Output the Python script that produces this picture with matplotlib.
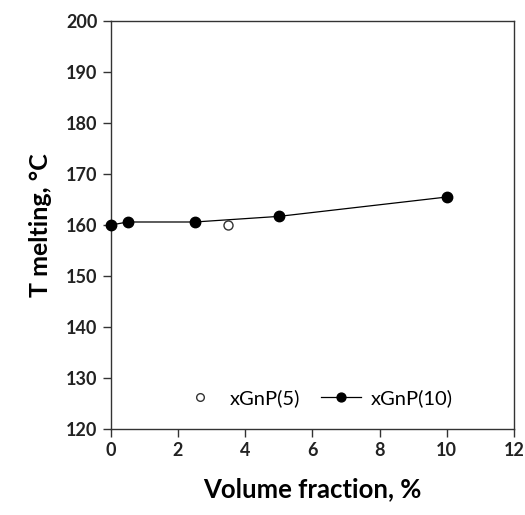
import numpy as np
from matplotlib import pyplot as plt

plt.rcParams['font.family'] = ['Lato', 'DejaVu Sans']

# xGnP(10) series
vol_10 = [0, 0.5, 2.5, 5, 10]
tm_10 = [160.0, 160.6, 160.6, 161.7, 165.5]

# xGnP(5) series
vol_5 = [3.5]
tm_5 = [160.0]

x_ticks = [0, 2, 4, 6, 8, 10, 12]
y_ticks = [120, 130, 140, 150, 160, 170, 180, 190, 200]

fig = plt.figure(figsize=(5.25, 5.15), dpi=100)
ax = fig.add_axes([0.211, 0.167, 0.768, 0.792])

ax.plot(vol_5, tm_5, 'o', mfc='white', mec='#333333', mew=1.0, ms=6.5,
        linestyle='none', label='xGnP(5)', clip_on=False, zorder=3)
ax.plot(vol_10, tm_10, '-o', color='black', lw=0.9, ms=7.5,
        label='xGnP(10)', clip_on=False, zorder=3)

ax.set_xlim(0, 12)
ax.set_ylim(120, 200)
ax.set_xticks(x_ticks)
ax.set_yticks(y_ticks)

for s in ax.spines.values():
    s.set_color('#333333')
    s.set_linewidth(1.0)

ax.tick_params(axis='both', direction='out', length=6, width=1.0,
               color='#333333', labelsize=13, labelcolor='#222222')
for lab in ax.get_xticklabels() + ax.get_yticklabels():
    lab.set_fontweight('bold')

ax.set_xlabel('Volume fraction, %', fontsize=18.5, fontweight='bold', labelpad=13)
ax.set_ylabel('T melting, \u00b0C', fontsize=18, fontweight='bold', labelpad=10)

ax.legend(loc='center', bbox_to_anchor=(0.51, 0.076), ncol=2, frameon=False,
          fontsize=14.5, handlelength=2.0, columnspacing=1.0, handletextpad=0.5,
          markerscale=0.85)

fig.savefig('out.png', dpi=100)
